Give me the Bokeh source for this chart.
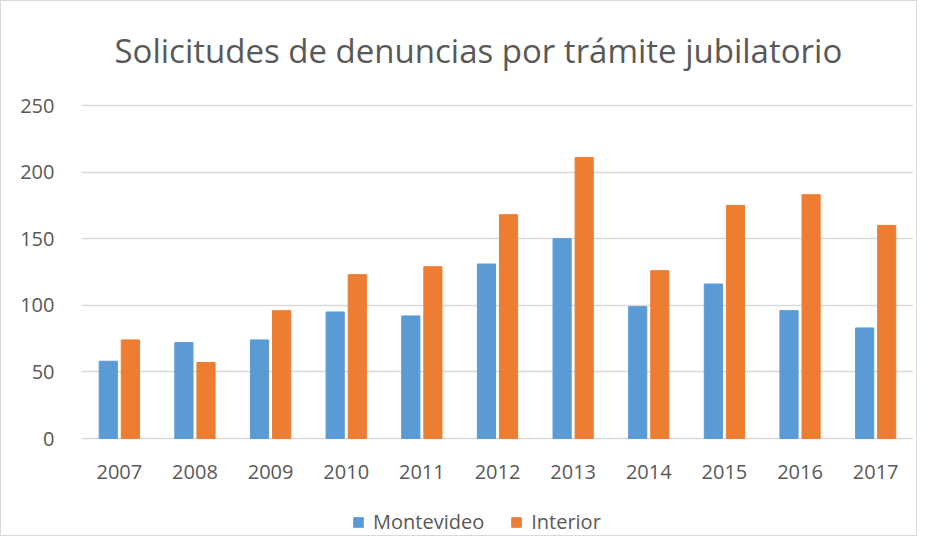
from bokeh.plotting import figure
from bokeh.models import FactorRange, Legend, LegendItem, Label, ColumnDataSource
from bokeh.transform import dodge
from bokeh.core.properties import value
from bokeh.embed import file_html
from bokeh.resources import INLINE

years = ["2007", "2008", "2009", "2010", "2011", "2012", "2013", "2014", "2015", "2016", "2017"]
montevideo = [58, 72, 74, 95, 92, 131, 150, 99, 116, 96, 83]
interior = [74, 57, 96, 123, 129, 168, 211, 126, 175, 183, 160]
y_ticks = [0, 50, 100, 150, 200, 250]

FONT = "Open Sans"
TXT = "#595959"

# layout: frame spans the whole height; value 0 sits 99px above the bottom, 250 sits 104px below the top
W, H = 917, 536
PX_PER_UNIT = 333 / 250
y_top = 250 + 104 / PX_PER_UNIT
y_bottom = -(H - 437) / PX_PER_UNIT

src = ColumnDataSource(dict(year=years, mv=montevideo, it=interior, zero=[0] * len(years)))

p = figure(x_range=FactorRange(*years, range_padding=0), y_range=(y_bottom, y_top),
           width=W, height=H,
           min_border_left=80, min_border_right=5, min_border_top=0, min_border_bottom=0,
           output_backend="svg", toolbar_location=None)

r1 = p.vbar(x=dodge("year", -0.146, range=p.x_range), top="mv", width=0.24, source=src,
            fill_color="#5B9BD5", line_color="#5B9BD5")
r2 = p.vbar(x=dodge("year", 0.146, range=p.x_range), top="it", width=0.24, source=src,
            fill_color="#ED7D31", line_color="#ED7D31")

# category labels under the zero line
p.text(x="year", y="zero", text="year", source=src, y_offset=33,
       text_align="center", text_baseline="middle",
       text_font=value(FONT), text_font_size="20px", text_color=TXT)

title = Label(x=33, y=H - 49, x_units="screen", y_units="screen",
              text="Solicitudes de denuncias por trámite jubilatorio",
              text_font=FONT, text_font_size="33px", text_color=TXT,
              text_baseline="middle", text_align="left")
p.add_layout(title)

p.yaxis.ticker = y_ticks
p.yaxis.axis_line_color = None
p.yaxis.major_tick_line_color = None
p.yaxis.minor_tick_line_color = None
p.yaxis.major_label_text_font = FONT
p.yaxis.major_label_text_font_size = "20px"
p.yaxis.major_label_text_color = TXT
p.yaxis.major_label_standoff = 21

p.xaxis.visible = False

p.xgrid.grid_line_color = None
p.ygrid.ticker = y_ticks
p.ygrid.grid_line_color = "#D9D9D9"
p.ygrid.grid_line_width = 1.5
p.outline_line_color = None

legend = Legend(items=[LegendItem(label="Montevideo", renderers=[r1]),
                       LegendItem(label="Interior", renderers=[r2])],
                orientation="horizontal", location=(271, 2),
                label_text_font=FONT, label_text_font_size="20px", label_text_color=TXT,
                glyph_width=12, glyph_height=12, spacing=26, label_standoff=9,
                border_line_color=None, background_fill_alpha=0, margin=0, padding=0)
p.add_layout(legend, "center")

p.styles = {"border": "1px solid #D9D9D9"}

open("out.html", "w").write(file_html(p, INLINE))
